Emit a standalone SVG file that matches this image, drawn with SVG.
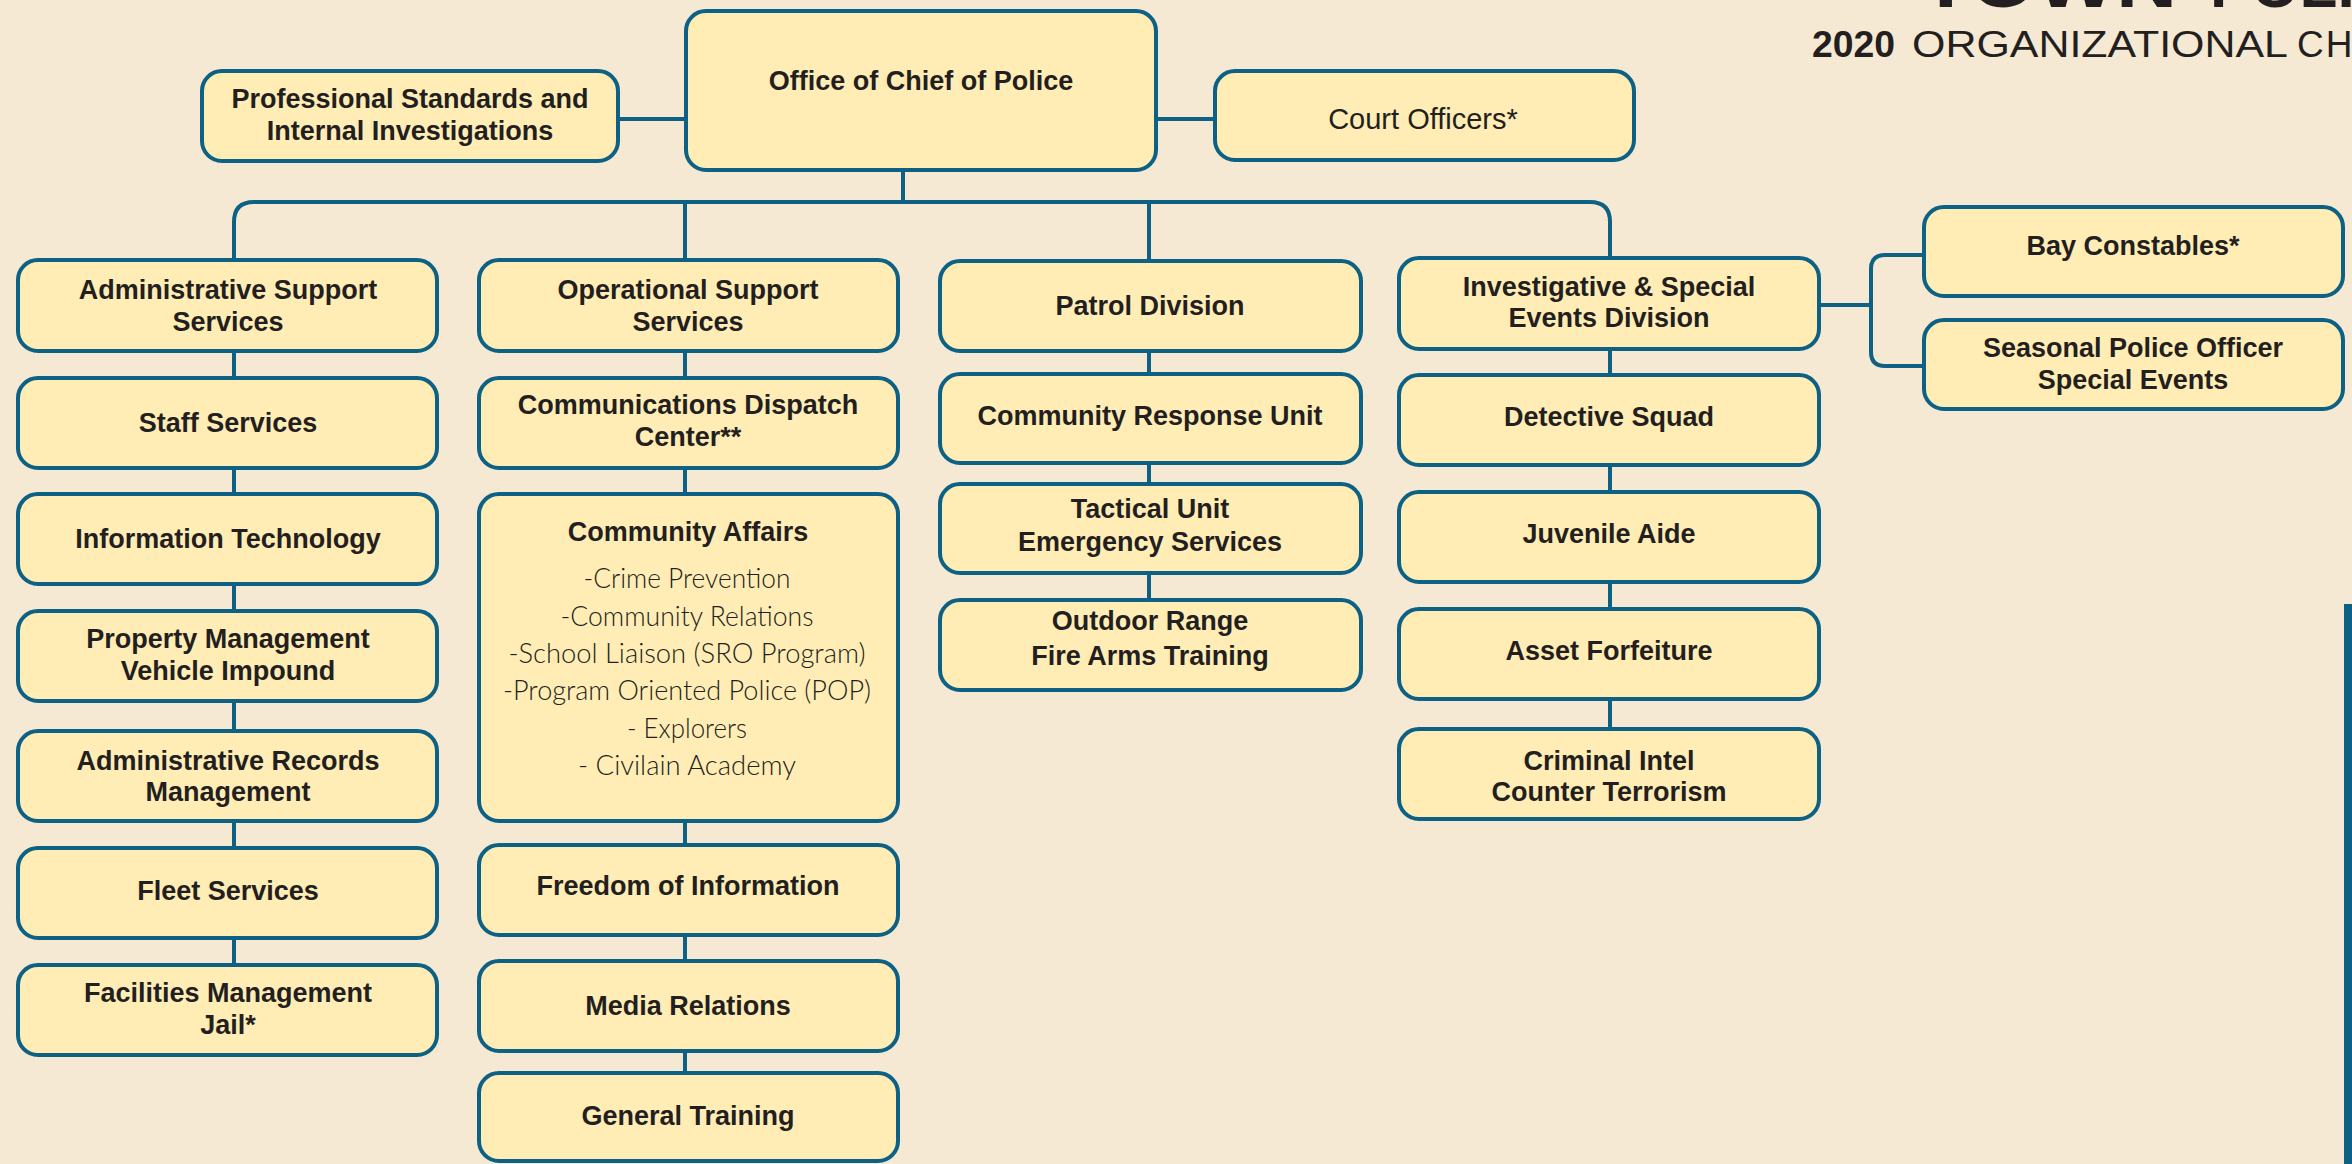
<svg xmlns="http://www.w3.org/2000/svg" width="2352" height="1164" viewBox="0 0 2352 1164">
<style>
.box{fill:#FFEDB5;stroke:#0D6184;stroke-width:4}
.conn{fill:none;stroke:#0D6184;stroke-width:4}
.lbl{font-family:"Liberation Sans",Arial,sans-serif;font-weight:bold;font-size:27px;fill:#231F20;text-anchor:middle}
.reg{font-family:"Liberation Sans",Arial,sans-serif;font-size:29px;fill:#231F20;text-anchor:middle}
.list{font-family:Lato,"Liberation Sans",sans-serif;font-weight:300;font-size:28px;fill:#231F20;text-anchor:middle}
.title{font-family:"Liberation Sans",Arial,sans-serif;fill:#231F20}
</style>
<rect width="2352" height="1164" fill="#F5E9D3"/>
<g id="header">
<text class="title" x="1920" y="7" font-size="72" font-weight="bold" textLength="257" lengthAdjust="spacingAndGlyphs">TOWN</text>
<text class="title" x="2210" y="7" font-size="62" font-weight="bold">POLICE</text>
<text class="title" x="1812" y="57" font-size="37" font-weight="bold" textLength="83" lengthAdjust="spacingAndGlyphs">2020</text>
<text class="title" x="1912" y="57" font-size="37" textLength="376" lengthAdjust="spacingAndGlyphs">ORGANIZATIONAL</text>
<text class="title" x="2297" y="57" font-size="37" letter-spacing="2">CHART</text>
</g>
<rect id="side-bar" x="2344" y="604" width="8" height="560" fill="#0D6184"/>
<g id="connectors">
<path class="conn" d="M620 119H686M1156 119H1215"/>
<path class="conn" d="M903 170V202"/>
<path class="conn" d="M234 262V222Q234 202 254 202H1590Q1610 202 1610 222V260"/>
<path class="conn" d="M685 202V262M1149 202V262"/>
<path class="conn" d="M234 351V967"/>
<path class="conn" d="M685 351V1075"/>
<path class="conn" d="M1149 351V602"/>
<path class="conn" d="M1610 349V731"/>
<path class="conn" d="M1819 305H1871M1924 255H1885Q1871 255 1871 269V352Q1871 366 1885 366H1924"/>
</g>
<g id="chief"><rect class="box" x="686" y="11" width="470" height="159" rx="20"/><text class="lbl" x="921" y="90" font-size="30">Office of Chief of Police</text></g>
<g id="professional-standards"><rect class="box" x="202" y="71" width="416" height="90" rx="20"/><text class="lbl" x="410" y="108">Professional Standards and</text><text class="lbl" x="410" y="140">Internal Investigations</text></g>
<g id="court-officers"><rect class="box" x="1215" y="71" width="419" height="89" rx="20"/><text class="reg" x="1423" y="129">Court Officers*</text></g>

<g id="admin-support"><rect class="box" x="18" y="260" width="419" height="91" rx="20"/><text class="lbl" x="228" y="299">Administrative Support</text><text class="lbl" x="228" y="331">Services</text></g>
<g id="staff-services"><rect class="box" x="18" y="378" width="419" height="90" rx="20"/><text class="lbl" x="228" y="432">Staff Services</text></g>
<g id="information-technology"><rect class="box" x="18" y="494" width="419" height="90" rx="20"/><text class="lbl" x="228" y="548">Information Technology</text></g>
<g id="property-management"><rect class="box" x="18" y="611" width="419" height="90" rx="20"/><text class="lbl" x="228" y="648">Property Management</text><text class="lbl" x="228" y="680">Vehicle Impound</text></g>
<g id="admin-records"><rect class="box" x="18" y="731" width="419" height="90" rx="20"/><text class="lbl" x="228" y="770">Administrative Records</text><text class="lbl" x="228" y="801">Management</text></g>
<g id="fleet-services"><rect class="box" x="18" y="848" width="419" height="90" rx="20"/><text class="lbl" x="228" y="900">Fleet Services</text></g>
<g id="facilities-management"><rect class="box" x="18" y="965" width="419" height="90" rx="20"/><text class="lbl" x="228" y="1002">Facilities Management</text><text class="lbl" x="228" y="1034">Jail*</text></g>

<g id="operational-support"><rect class="box" x="479" y="260" width="419" height="91" rx="20"/><text class="lbl" x="688" y="299">Operational Support</text><text class="lbl" x="688" y="331">Services</text></g>
<g id="communications-dispatch"><rect class="box" x="479" y="378" width="419" height="90" rx="20"/><text class="lbl" x="688" y="414">Communications Dispatch</text><text class="lbl" x="688" y="446">Center**</text></g>
<g id="community-affairs"><rect class="box" x="479" y="494" width="419" height="327" rx="20"/><text class="lbl" x="688" y="541">Community Affairs</text>
<text class="list" x="687" y="588" textLength="207" lengthAdjust="spacingAndGlyphs">-Crime Prevention</text>
<text class="list" x="687" y="626" textLength="253" lengthAdjust="spacingAndGlyphs">-Community Relations</text>
<text class="list" x="687" y="663" textLength="357" lengthAdjust="spacingAndGlyphs">-School Liaison (SRO Program)</text>
<text class="list" x="687" y="700" textLength="368" lengthAdjust="spacingAndGlyphs">-Program Oriented Police (POP)</text>
<text class="list" x="687" y="738" textLength="120" lengthAdjust="spacingAndGlyphs">- Explorers</text>
<text class="list" x="687" y="775" textLength="218" lengthAdjust="spacingAndGlyphs">- Civilain Academy</text></g>
<g id="freedom-of-information"><rect class="box" x="479" y="845" width="419" height="90" rx="20"/><text class="lbl" x="688" y="895">Freedom of Information</text></g>
<g id="media-relations"><rect class="box" x="479" y="961" width="419" height="90" rx="20"/><text class="lbl" x="688" y="1015">Media Relations</text></g>
<g id="general-training"><rect class="box" x="479" y="1073" width="419" height="88" rx="20"/><text class="lbl" x="688" y="1125">General Training</text></g>

<g id="patrol-division"><rect class="box" x="940" y="261" width="421" height="90" rx="20"/><text class="lbl" x="1150" y="315">Patrol Division</text></g>
<g id="community-response-unit"><rect class="box" x="940" y="374" width="421" height="89" rx="20"/><text class="lbl" x="1150" y="425" font-size="25">Community Response Unit</text></g>
<g id="tactical-unit"><rect class="box" x="940" y="484" width="421" height="89" rx="20"/><text class="lbl" x="1150" y="518">Tactical Unit</text><text class="lbl" x="1150" y="551">Emergency Services</text></g>
<g id="outdoor-range"><rect class="box" x="940" y="600" width="421" height="90" rx="20"/><text class="lbl" x="1150" y="630">Outdoor Range</text><text class="lbl" x="1150" y="665">Fire Arms Training</text></g>

<g id="investigative-division"><rect class="box" x="1399" y="258" width="420" height="91" rx="20"/><text class="lbl" x="1609" y="296">Investigative &amp; Special</text><text class="lbl" x="1609" y="327">Events Division</text></g>
<g id="detective-squad"><rect class="box" x="1399" y="375" width="420" height="90" rx="20"/><text class="lbl" x="1609" y="426">Detective Squad</text></g>
<g id="juvenile-aide"><rect class="box" x="1399" y="492" width="420" height="90" rx="20"/><text class="lbl" x="1609" y="543">Juvenile Aide</text></g>
<g id="asset-forfeiture"><rect class="box" x="1399" y="609" width="420" height="90" rx="20"/><text class="lbl" x="1609" y="660">Asset Forfeiture</text></g>
<g id="criminal-intel"><rect class="box" x="1399" y="729" width="420" height="90" rx="20"/><text class="lbl" x="1609" y="770">Criminal Intel</text><text class="lbl" x="1609" y="801">Counter Terrorism</text></g>

<g id="bay-constables"><rect class="box" x="1924" y="207" width="419" height="89" rx="20"/><text class="lbl" x="2133" y="255">Bay Constables*</text></g>
<g id="seasonal-police"><rect class="box" x="1924" y="320" width="419" height="89" rx="20"/><text class="lbl" x="2133" y="357">Seasonal Police Officer</text><text class="lbl" x="2133" y="389">Special Events</text></g>
</svg>
